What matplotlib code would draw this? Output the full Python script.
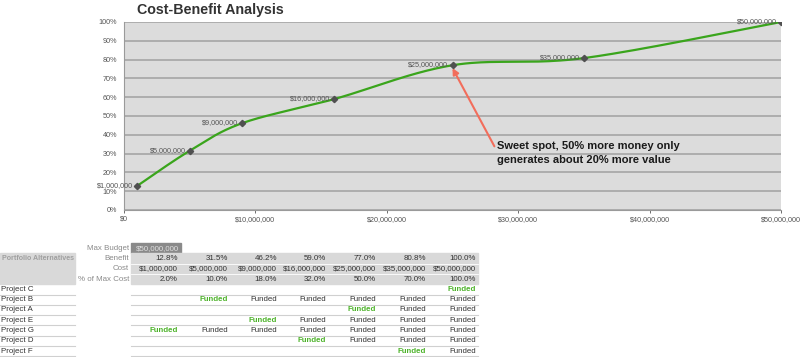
import numpy as np
import matplotlib
matplotlib.use("Agg")
import matplotlib.pyplot as plt
from matplotlib.patches import Rectangle
from matplotlib.ticker import FuncFormatter

plt.rcParams['font.family'] = ['Liberation Sans', 'DejaVu Sans']

# data
cost = [1000000, 5000000, 9000000, 16000000, 25000000, 35000000, 50000000]
benefit = [12.8, 31.5, 46.2, 59.0, 77.0, 80.8, 100.0]
pct_max_cost = [2.0, 10.0, 18.0, 32.0, 50.0, 70.0, 100.0]
max_budget = 50000000
projects = ['Project C', 'Project B', 'Project A', 'Project E', 'Project G', 'Project D', 'Project F']
first_funded = [7, 2, 5, 3, 1, 4, 6]   # column (1-based) where each project first gets funded
x_ticks = [0, 10000000, 20000000, 30000000, 40000000, 50000000]
y_ticks = [0, 10, 20, 30, 40, 50, 60, 70, 80, 90, 100]

W, H = 800, 357
fig = plt.figure(figsize=(8, 3.57), dpi=100)


def money(v):
    return '${:,.0f}'.format(v)


def smooth(xs, ys, n=40):
    # excel-style smoothed line (bezier with catmull-rom control points), in normalised space
    sx, sy = 50000000.0, 100.0 * 188 / 655
    px = np.array(xs) / sx
    py = np.array(ys) / sy
    P = np.column_stack([px, py])
    P = np.vstack([P[0], P, P[-1]])
    out = []
    for i in range(1, len(P) - 2):
        p0, p1, p2, p3 = P[i - 1], P[i], P[i + 1], P[i + 2]
        c1 = p1 + (p2 - p0) / 6
        c2 = p2 - (p3 - p1) / 6
        t = np.linspace(0, 1, n)[:, None]
        seg = (1 - t) ** 3 * p1 + 3 * (1 - t) ** 2 * t * c1 + 3 * (1 - t) * t ** 2 * c2 + t ** 3 * p2
        out.append(seg)
    out = np.vstack(out)
    return out[:, 0] * sx, out[:, 1] * sy


# ---- chart ----
ax = fig.add_axes([124 / W, 1 - 210 / H, 657 / W, 188 / H])
ax.set_facecolor('#dcdcdc')
ax.set_xlim(0, 50000000)
ax.set_ylim(0, 100)
ax.set_yticks(y_ticks)
ax.set_xticks(x_ticks)
ax.yaxis.set_major_formatter(FuncFormatter(lambda v, p: '{:.0f}%'.format(v)))
ax.xaxis.set_major_formatter(FuncFormatter(lambda v, p: money(v)))
ax.grid(axis='y', color='#a0a0a0', linewidth=1.1)
ax.set_axisbelow(True)
ax.tick_params(axis='both', labelsize=5.2, colors='#555555', length=2, width=0.6, pad=2)
ax.tick_params(axis='y', length=0, pad=5)
for s in ['top', 'right']:
    ax.spines[s].set_visible(False)
ax.spines['left'].set_color('#9a9a9a')
ax.spines['bottom'].set_color('#9a9a9a')

sx, sy = smooth(cost, benefit)
ax.plot(sx, sy, color='#3aa51c', linewidth=1.6, zorder=3)
ax.plot(cost, benefit, linestyle='none', marker='D', markersize=3.2, color='#505050', zorder=4)
for c, b in zip(cost, benefit):
    ax.annotate(money(c), (c, b), xytext=(-3, 0.5), textcoords='offset points',
                ha='right', va='center', fontsize=5.2, color='#555555')

ax.annotate('Sweet spot, 50% more money only\ngenerates about 20% more value',
            xy=(cost[4], benefit[4] - 1.5), xytext=(28400000, 36.5),
            fontsize=8, fontweight='bold', color='#1a1a1a', ha='left', va='top',
            linespacing=1.5,
            arrowprops=dict(arrowstyle='-|>', color='#f26d5b', lw=1.5,
                            shrinkA=0, shrinkB=0, mutation_scale=9,
                            relpos=(-0.01, 0.72)))

fig.text(137 / W, 1 - 10 / H, 'Cost-Benefit Analysis', fontsize=10.3, fontweight='bold',
         color='#333333', ha='left', va='center')

# ---- table ----
tb = fig.add_axes([0, 0, 1, 1])
tb.set_xlim(0, W)
tb.set_ylim(H, 0)
tb.axis('off')

row_h = 10.3
top = 243
col_right = [180, 230, 279, 328, 378, 428, 478]
col_left = 131
fs = 5.7


def row_y(i):
    return top + row_h * (i + 0.5)


# max budget cell
tb.add_patch(Rectangle((col_left, top - 0.5), 50, row_h, color='#8a8a8a'))
tb.text(col_right[0] - 1, row_y(0), money(max_budget), fontsize=fs, color='#e0e0e0', ha='right', va='center')
tb.text(129, row_y(0), 'Max Budget', fontsize=fs, color='#8a8a8a', ha='right', va='center')

# gray header band
band_top = top + row_h
tb.add_patch(Rectangle((col_left, band_top), col_right[-1] - col_left, 3 * row_h, color='#d9d9d9'))
tb.add_patch(Rectangle((0, band_top), 75, 3 * row_h, color='#d9d9d9'))
for k in range(1, 3):
    tb.plot([col_left, col_right[-1]], [band_top + k * row_h] * 2, color='white', lw=0.6)
tb.text(2, row_y(1), 'Portfolio Alternatives', fontsize=5.1, fontweight='bold',
        color='#a0a0a0', ha='left', va='center')

labels = ['Benefit', 'Cost', '% of Max Cost']
rows = [['{:.1f}%'.format(v) for v in benefit],
        [money(v) for v in cost],
        ['{:.1f}%'.format(v) for v in pct_max_cost]]
for r, (lab, vals) in enumerate(zip(labels, rows)):
    y = row_y(r + 1)
    tb.text(129, y, lab, fontsize=fs, color='#8a8a8a', ha='right', va='center')
    for cr, v in zip(col_right, vals):
        tb.text(cr - 2, y, v, fontsize=fs, color='#333333', ha='right', va='center')

for p, (name, ff) in enumerate(zip(projects, first_funded)):
    i = p + 4
    y = row_y(i)
    tb.text(1, y, name, fontsize=fs, color='#333333', ha='left', va='center')
    yb = top + row_h * (i + 1)
    tb.plot([0, 75], [yb, yb], color='#d0d0d0', lw=0.8)
    tb.plot([col_left, col_right[-1]], [yb, yb], color='#d0d0d0', lw=0.8)
    for c, cr in enumerate(col_right, start=1):
        if c == ff:
            tb.text(cr - 2, y, 'Funded', fontsize=fs, fontweight='bold', color='#4db32a', ha='right', va='center')
        elif c > ff:
            tb.text(cr - 2, y, 'Funded', fontsize=fs, color='#333333', ha='right', va='center')

fig.savefig('out.png', dpi=100)
